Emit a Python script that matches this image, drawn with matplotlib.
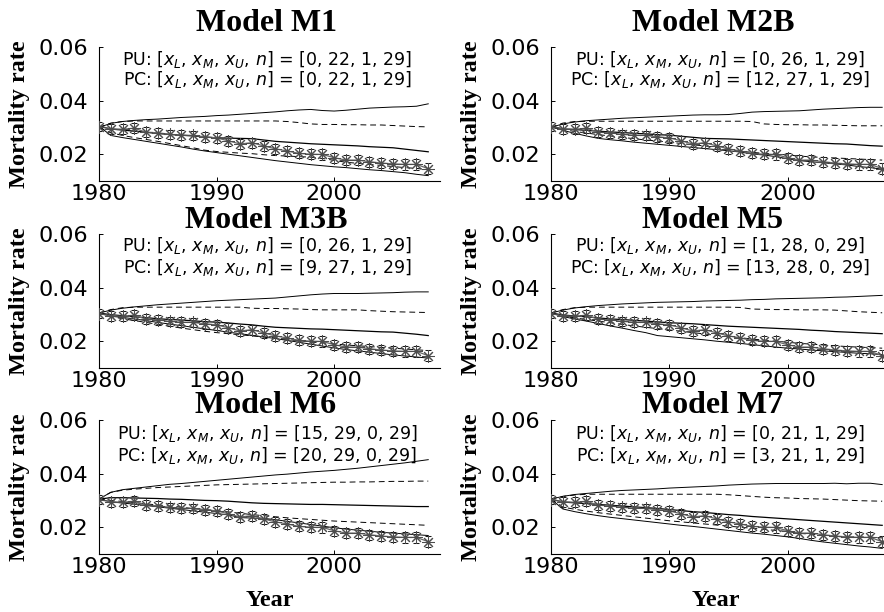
import numpy as np
import matplotlib
matplotlib.use("Agg")
import matplotlib.pyplot as plt
from matplotlib.transforms import blended_transform_factory

years = list(range(1980, 2009))

observed = [0.0303, 0.0295, 0.0293, 0.0297, 0.0282, 0.0280, 0.0274, 0.0271, 0.0270, 0.0265,
            0.0261, 0.0250, 0.0238, 0.0243, 0.0231, 0.0220, 0.0212, 0.0203, 0.0200, 0.0199,
            0.0187, 0.0178, 0.0178, 0.0172, 0.0167, 0.0164, 0.0162, 0.0162, 0.0146]
obs_err = [0.0016, 0.0018, 0.0018, 0.0019, 0.0018, 0.0018, 0.0018, 0.0018, 0.0018, 0.0018,
           0.0018, 0.0019, 0.0019, 0.0019, 0.0019, 0.0019, 0.0019, 0.0019, 0.0019, 0.0019,
           0.0019, 0.0019, 0.0019, 0.0019, 0.0019, 0.0019, 0.0020, 0.0020, 0.0020]

model_names = ["Model M1", "Model M2B", "Model M3B", "Model M5", "Model M6", "Model M7"]
pu_counts = ["[0, 22, 1, 29]", "[0, 26, 1, 29]", "[0, 26, 1, 29]",
             "[1, 28, 0, 29]", "[15, 29, 0, 29]", "[0, 21, 1, 29]"]
pc_counts = ["[0, 22, 1, 29]", "[12, 27, 1, 29]", "[9, 27, 1, 29]",
             "[13, 28, 0, 29]", "[20, 29, 0, 29]", "[3, 21, 1, 29]"]

# PU interval (solid)
m1_pu_upper = [0.0300, 0.0315, 0.0322, 0.0326, 0.0329, 0.0331, 0.0334, 0.0337, 0.0339, 0.0341,
               0.0344, 0.0346, 0.0349, 0.0352, 0.0355, 0.0358, 0.0362, 0.0365, 0.0367, 0.0363,
               0.0361, 0.0364, 0.0368, 0.0372, 0.0374, 0.0376, 0.0377, 0.0379, 0.0388]
m1_pu_median = [0.0305, 0.0294, 0.0290, 0.0286, 0.0282, 0.0277, 0.0274, 0.0271, 0.0268, 0.0264,
                0.0261, 0.0260, 0.0259, 0.0258, 0.0253, 0.0248, 0.0245, 0.0242, 0.0239, 0.0237,
                0.0235, 0.0233, 0.0231, 0.0228, 0.0226, 0.0224, 0.0219, 0.0214, 0.0209]
m1_pu_lower = [0.0305, 0.0270, 0.0262, 0.0255, 0.0248, 0.0241, 0.0234, 0.0227, 0.0219, 0.0212,
               0.0206, 0.0200, 0.0194, 0.0188, 0.0182, 0.0176, 0.0171, 0.0166, 0.0161, 0.0157,
               0.0153, 0.0150, 0.0146, 0.0142, 0.0139, 0.0135, 0.0131, 0.0125, 0.0120]
m1_pc_upper = [0.0300, 0.0316, 0.0322, 0.0324, 0.0324, 0.0324, 0.0324, 0.0324, 0.0324, 0.0324,
               0.0324, 0.0324, 0.0324, 0.0324, 0.0324, 0.0324, 0.0322, 0.0318, 0.0313, 0.0311,
               0.0311, 0.0310, 0.0310, 0.0309, 0.0309, 0.0307, 0.0305, 0.0303, 0.0302]
m1_pc_lower = [0.0300, 0.0280, 0.0270, 0.0262, 0.0255, 0.0248, 0.0240, 0.0232, 0.0224, 0.0215,
               0.0210, 0.0207, 0.0204, 0.0202, 0.0198, 0.0195, 0.0193, 0.0191, 0.0189, 0.0184,
               0.0177, 0.0170, 0.0166, 0.0162, 0.0158, 0.0154, 0.0150, 0.0147, 0.0142]

m2b_pu_upper = [0.0300, 0.0313, 0.0320, 0.0325, 0.0328, 0.0331, 0.0334, 0.0336, 0.0338, 0.0340,
                0.0342, 0.0344, 0.0346, 0.0347, 0.0347, 0.0348, 0.0352, 0.0357, 0.0359, 0.0360,
                0.0361, 0.0362, 0.0365, 0.0368, 0.0370, 0.0372, 0.0374, 0.0375, 0.0375]
m2b_pu_median = [0.0305, 0.0294, 0.0292, 0.0289, 0.0286, 0.0283, 0.0281, 0.0278, 0.0276, 0.0273,
                 0.0271, 0.0267, 0.0263, 0.0259, 0.0258, 0.0257, 0.0255, 0.0253, 0.0251, 0.0249,
                 0.0247, 0.0245, 0.0243, 0.0241, 0.0239, 0.0238, 0.0235, 0.0232, 0.0230]
m2b_pu_lower = [0.0305, 0.0289, 0.0278, 0.0268, 0.0259, 0.0254, 0.0250, 0.0245, 0.0241, 0.0237,
                0.0233, 0.0229, 0.0225, 0.0221, 0.0217, 0.0213, 0.0208, 0.0201, 0.0197, 0.0191,
                0.0183, 0.0176, 0.0172, 0.0168, 0.0164, 0.0160, 0.0154, 0.0150, 0.0144]
m2b_pc_upper = [0.0300, 0.0316, 0.0322, 0.0323, 0.0323, 0.0323, 0.0323, 0.0323, 0.0323, 0.0323,
                0.0323, 0.0323, 0.0323, 0.0323, 0.0323, 0.0323, 0.0323, 0.0322, 0.0313, 0.0311,
                0.0310, 0.0310, 0.0309, 0.0309, 0.0308, 0.0307, 0.0306, 0.0306, 0.0306]
m2b_pc_lower = [0.0300, 0.0292, 0.0285, 0.0279, 0.0273, 0.0268, 0.0263, 0.0258, 0.0253, 0.0249,
                0.0245, 0.0240, 0.0235, 0.0231, 0.0225, 0.0218, 0.0211, 0.0207, 0.0203, 0.0201,
                0.0197, 0.0193, 0.0190, 0.0188, 0.0186, 0.0184, 0.0182, 0.0180, 0.0178]

m3b_pu_upper = [0.0305, 0.0316, 0.0323, 0.0328, 0.0332, 0.0336, 0.0339, 0.0342, 0.0345, 0.0348,
                0.0351, 0.0353, 0.0355, 0.0357, 0.0359, 0.0361, 0.0365, 0.0369, 0.0373, 0.0376,
                0.0378, 0.0378, 0.0378, 0.0379, 0.0380, 0.0381, 0.0383, 0.0384, 0.0384]
m3b_pu_median = [0.0305, 0.0299, 0.0295, 0.0291, 0.0288, 0.0284, 0.0281, 0.0279, 0.0276, 0.0273,
                 0.0271, 0.0268, 0.0264, 0.0261, 0.0256, 0.0252, 0.0250, 0.0248, 0.0246, 0.0245,
                 0.0243, 0.0241, 0.0239, 0.0237, 0.0235, 0.0234, 0.0230, 0.0226, 0.0221]
m3b_pu_lower = [0.0305, 0.0293, 0.0289, 0.0283, 0.0277, 0.0270, 0.0264, 0.0258, 0.0252, 0.0246,
                0.0240, 0.0234, 0.0228, 0.0222, 0.0216, 0.0210, 0.0203, 0.0196, 0.0189, 0.0182,
                0.0175, 0.0169, 0.0164, 0.0159, 0.0154, 0.0149, 0.0145, 0.0141, 0.0137]
m3b_pc_upper = [0.0305, 0.0318, 0.0325, 0.0327, 0.0327, 0.0327, 0.0327, 0.0327, 0.0327, 0.0327,
                0.0327, 0.0327, 0.0327, 0.0323, 0.0322, 0.0322, 0.0321, 0.0320, 0.0318, 0.0317,
                0.0317, 0.0317, 0.0317, 0.0314, 0.0312, 0.0310, 0.0309, 0.0308, 0.0307]
m3b_pc_lower = [0.0305, 0.0292, 0.0284, 0.0277, 0.0270, 0.0263, 0.0256, 0.0249, 0.0243, 0.0237,
                0.0232, 0.0228, 0.0224, 0.0220, 0.0216, 0.0212, 0.0207, 0.0202, 0.0197, 0.0194,
                0.0190, 0.0186, 0.0183, 0.0180, 0.0177, 0.0174, 0.0171, 0.0168, 0.0165]

m5_pu_upper = [0.0305, 0.0316, 0.0324, 0.0329, 0.0333, 0.0336, 0.0339, 0.0341, 0.0343, 0.0345,
               0.0346, 0.0347, 0.0348, 0.0350, 0.0351, 0.0352, 0.0353, 0.0355, 0.0356, 0.0358,
               0.0359, 0.0360, 0.0361, 0.0362, 0.0364, 0.0365, 0.0367, 0.0369, 0.0371]
m5_pu_median = [0.0305, 0.0298, 0.0294, 0.0291, 0.0287, 0.0283, 0.0281, 0.0278, 0.0275, 0.0272,
                0.0269, 0.0267, 0.0265, 0.0262, 0.0259, 0.0256, 0.0254, 0.0252, 0.0250, 0.0248,
                0.0246, 0.0244, 0.0241, 0.0239, 0.0236, 0.0234, 0.0232, 0.0230, 0.0228]
m5_pu_lower = [0.0305, 0.0292, 0.0283, 0.0275, 0.0266, 0.0257, 0.0249, 0.0240, 0.0232, 0.0221,
               0.0217, 0.0213, 0.0209, 0.0205, 0.0200, 0.0196, 0.0192, 0.0187, 0.0183, 0.0178,
               0.0174, 0.0171, 0.0167, 0.0164, 0.0161, 0.0158, 0.0155, 0.0153, 0.0150]
m5_pc_upper = [0.0305, 0.0318, 0.0325, 0.0327, 0.0327, 0.0327, 0.0327, 0.0327, 0.0327, 0.0327,
               0.0327, 0.0327, 0.0327, 0.0327, 0.0327, 0.0327, 0.0326, 0.0320, 0.0319, 0.0318,
               0.0318, 0.0317, 0.0317, 0.0317, 0.0316, 0.0313, 0.0310, 0.0308, 0.0306]
m5_pc_lower = [0.0305, 0.0294, 0.0287, 0.0281, 0.0275, 0.0269, 0.0263, 0.0257, 0.0252, 0.0247,
               0.0242, 0.0237, 0.0232, 0.0227, 0.0222, 0.0217, 0.0213, 0.0208, 0.0204, 0.0200,
               0.0196, 0.0192, 0.0189, 0.0186, 0.0183, 0.0180, 0.0178, 0.0176, 0.0174]

m6_pu_upper = [0.0305, 0.0330, 0.0340, 0.0345, 0.0350, 0.0355, 0.0360, 0.0363, 0.0367, 0.0371,
               0.0375, 0.0379, 0.0383, 0.0387, 0.0391, 0.0395, 0.0398, 0.0402, 0.0406, 0.0409,
               0.0412, 0.0416, 0.0420, 0.0425, 0.0430, 0.0435, 0.0440, 0.0446, 0.0452]
m6_pu_median = [0.0305, 0.0310, 0.0310, 0.0309, 0.0308, 0.0307, 0.0305, 0.0304, 0.0302, 0.0300,
                0.0299, 0.0297, 0.0294, 0.0291, 0.0289, 0.0288, 0.0287, 0.0286, 0.0285, 0.0285,
                0.0284, 0.0283, 0.0282, 0.0281, 0.0280, 0.0279, 0.0278, 0.0277, 0.0277]
m6_pu_lower = [0.0305, 0.0295, 0.0290, 0.0286, 0.0281, 0.0276, 0.0271, 0.0266, 0.0261, 0.0256,
               0.0251, 0.0246, 0.0236, 0.0234, 0.0233, 0.0228, 0.0222, 0.0216, 0.0210, 0.0204,
               0.0198, 0.0193, 0.0189, 0.0185, 0.0181, 0.0178, 0.0175, 0.0172, 0.0169]
m6_pc_upper = [0.0305, 0.0330, 0.0338, 0.0342, 0.0345, 0.0348, 0.0350, 0.0352, 0.0354, 0.0356,
               0.0358, 0.0359, 0.0360, 0.0361, 0.0362, 0.0363, 0.0364, 0.0365, 0.0366, 0.0367,
               0.0368, 0.0368, 0.0369, 0.0369, 0.0370, 0.0371, 0.0371, 0.0372, 0.0372]
m6_pc_lower = [0.0305, 0.0300, 0.0296, 0.0292, 0.0287, 0.0283, 0.0279, 0.0275, 0.0269, 0.0266,
               0.0262, 0.0257, 0.0252, 0.0247, 0.0243, 0.0239, 0.0235, 0.0232, 0.0229, 0.0226,
               0.0223, 0.0221, 0.0219, 0.0217, 0.0215, 0.0213, 0.0211, 0.0209, 0.0207]

m7_pu_upper = [0.0305, 0.0315, 0.0322, 0.0326, 0.0330, 0.0334, 0.0337, 0.0339, 0.0341, 0.0343,
               0.0346, 0.0348, 0.0350, 0.0352, 0.0354, 0.0357, 0.0359, 0.0361, 0.0362, 0.0363,
               0.0363, 0.0363, 0.0363, 0.0363, 0.0364, 0.0362, 0.0364, 0.0364, 0.0359]
m7_pu_median = [0.0305, 0.0294, 0.0291, 0.0288, 0.0285, 0.0282, 0.0279, 0.0276, 0.0273, 0.0270,
                0.0266, 0.0262, 0.0258, 0.0255, 0.0251, 0.0247, 0.0244, 0.0240, 0.0237, 0.0234,
                0.0231, 0.0228, 0.0225, 0.0222, 0.0219, 0.0216, 0.0213, 0.0210, 0.0207]
m7_pu_lower = [0.0305, 0.0268, 0.0258, 0.0250, 0.0243, 0.0237, 0.0232, 0.0227, 0.0222, 0.0217,
               0.0212, 0.0207, 0.0203, 0.0198, 0.0193, 0.0188, 0.0183, 0.0178, 0.0174, 0.0169,
               0.0164, 0.0158, 0.0151, 0.0145, 0.0140, 0.0135, 0.0130, 0.0126, 0.0121]
m7_pc_upper = [0.0305, 0.0315, 0.0320, 0.0323, 0.0323, 0.0323, 0.0323, 0.0323, 0.0323, 0.0323,
               0.0323, 0.0323, 0.0323, 0.0323, 0.0323, 0.0321, 0.0318, 0.0315, 0.0312, 0.0310,
               0.0309, 0.0307, 0.0306, 0.0305, 0.0303, 0.0301, 0.0299, 0.0298, 0.0297]
m7_pc_lower = [0.0305, 0.0275, 0.0267, 0.0260, 0.0254, 0.0249, 0.0244, 0.0239, 0.0234, 0.0229,
               0.0224, 0.0220, 0.0216, 0.0212, 0.0208, 0.0204, 0.0200, 0.0196, 0.0192, 0.0188,
               0.0184, 0.0177, 0.0174, 0.0171, 0.0166, 0.0163, 0.0164, 0.0163, 0.0160]

pu_upper = [m1_pu_upper, m2b_pu_upper, m3b_pu_upper, m5_pu_upper, m6_pu_upper, m7_pu_upper]
pu_median = [m1_pu_median, m2b_pu_median, m3b_pu_median, m5_pu_median, m6_pu_median, m7_pu_median]
pu_lower = [m1_pu_lower, m2b_pu_lower, m3b_pu_lower, m5_pu_lower, m6_pu_lower, m7_pu_lower]
pc_upper = [m1_pc_upper, m2b_pc_upper, m3b_pc_upper, m5_pc_upper, m6_pc_upper, m7_pc_upper]
pc_lower = [m1_pc_lower, m2b_pc_lower, m3b_pc_lower, m5_pc_lower, m6_pc_lower, m7_pc_lower]

x_ticks = [1980, 1990, 2000]
y_ticks = [0.02, 0.04, 0.06]
y_tick_labels = ["0.02", "0.04", "0.06"]

W, H = 884, 612
fig = plt.figure(figsize=(W / 100, H / 100), dpi=100)

serif = "Liberation Serif"
sans = "DejaVu Sans"

col_left = [99, 551]
col_width = [341, 343]
row_top = [47, 234, 420]
row_h = 134
title_base = [31, 228, 413]
pu_off = [12, 12, 14]
line_gap = 21

for i in range(6):
    r, c = divmod(i, 2)
    x0 = col_left[c] / W
    w = col_width[c] / W
    y0 = 1 - (row_top[r] + row_h) / H
    ax = fig.add_axes([x0, y0, w, row_h / H])

    ax.plot(years, pu_upper[i], color="k", lw=0.7, zorder=2)
    ax.plot(years, pu_median[i], color="k", lw=0.9, zorder=2)
    ax.plot(years, pu_lower[i], color="k", lw=0.7, zorder=2)
    ax.plot(years, pc_upper[i], color="k", lw=0.7, ls=(0, (6, 4)), zorder=2)
    ax.plot(years, pc_lower[i], color="k", lw=0.7, ls=(0, (6, 4)), zorder=2)
    ax.errorbar(years, observed, yerr=obs_err, fmt="-", color="0.4", lw=0.9,
                marker=(8, 2, 0), ms=9, mew=0.75, mec="0.3",
                ecolor="0.1", elinewidth=0.6, capsize=2.5, capthick=0.6, zorder=3)

    ax.set_xlim(1980, 2009)
    ax.set_ylim(0.01, 0.06)
    ax.set_xticks(x_ticks)
    ax.set_xticklabels([str(v) for v in x_ticks])
    ax.set_yticks(y_ticks)
    ax.set_yticklabels(y_tick_labels)
    for s in ["top", "right"]:
        ax.spines[s].set_visible(False)
    for s in ["left", "bottom"]:
        ax.spines[s].set_linewidth(0.8)
    ax.tick_params(direction="in", length=3, width=0.7, labelsize=16)
    ax.tick_params(axis="x", pad=2.5)
    ax.tick_params(axis="y", pad=8)
    for lab in ax.get_xticklabels() + ax.get_yticklabels():
        lab.set_fontfamily(sans)

    ax.set_ylabel("Mortality rate", fontfamily=serif, fontweight="bold", fontsize=17.5,
                  va="center")
    ax.yaxis.set_label_coords(-79 / col_width[c], 0.5)
    if r == 2:
        ax.set_xlabel("Year", fontfamily=serif, fontweight="bold", fontsize=17.5, va="center")
        ax.xaxis.set_label_coords(0.5 if c == 0 else 0.48, -46 / row_h)

    tr = blended_transform_factory(ax.transData, ax.transAxes)
    ax.text(1994.3, 1 - pu_off[r] / row_h, "PU: [$x_L$, $x_M$, $x_U$, $n$] = " + pu_counts[i],
            transform=tr, ha="center", va="center", fontsize=12.5, fontfamily=sans)
    ax.text(1994.3, 1 - (pu_off[r] + line_gap) / row_h,
            "PC: [$x_L$, $x_M$, $x_U$, $n$] = " + pc_counts[i],
            transform=tr, ha="center", va="center", fontsize=12.5, fontfamily=sans)

    xc = (col_left[c] + (266 - 99 if c == 0 else 713 - 551)) / W
    fig.text(xc, 1 - title_base[r] / H, model_names[i], ha="center", va="baseline",
             fontsize=23, fontweight="bold", fontfamily=serif)

fig.savefig("out.png", dpi=100)
